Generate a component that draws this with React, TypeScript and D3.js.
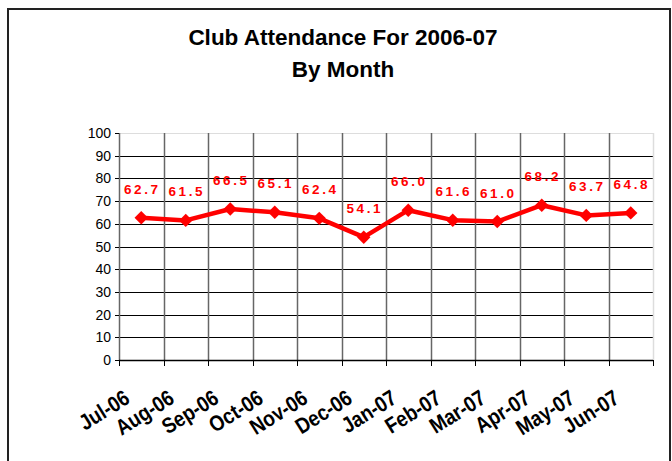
import * as d3 from 'd3'

const months = [
  'Jul-06', 'Aug-06', 'Sep-06', 'Oct-06', 'Nov-06', 'Dec-06',
  'Jan-07', 'Feb-07', 'Mar-07', 'Apr-07', 'May-07', 'Jun-07',
]
const attendance = [62.7, 61.5, 66.5, 65.1, 62.4, 54.1, 66.0, 61.6, 61.0, 68.2, 63.7, 64.8]
const yTicks = [0, 10, 20, 30, 40, 50, 60, 70, 80, 90, 100]
const titleLines = ['Club Attendance For 2006-07', 'By Month']

const WIDTH = 672
const HEIGHT = 461
const plot = { left: 119, right: 653, top: 133, bottom: 360 }
const font = 'Arial, "Liberation Sans", sans-serif'

const App = () => {
  const x = d3.scaleBand<string>().domain(months).range([plot.left, plot.right])
  const y = d3.scaleLinear().domain([0, 100]).range([plot.bottom, plot.top])
  const cx = (m: string) => (x(m) ?? 0) + x.bandwidth() / 2

  const line = d3
    .line<number>()
    .x((_, i) => cx(months[i]))
    .y((d) => y(d))

  const diamond = d3.symbol(d3.symbolSquare, 90)()
  const boundaries = d3.range(months.length + 1).map((i) => plot.left + i * x.bandwidth())

  return (
    <svg
      width={WIDTH}
      height={HEIGHT}
      style={{ position: 'absolute', left: 0, top: 0, background: '#fff' }}
      fontFamily={font}
    >
      <rect x={8} y={9} width={662} height={470} fill="#fff" stroke="#222" strokeWidth={2} />

      {titleLines.map((t, i) => (
        <text
          key={t}
          x={343}
          y={45 + i * 32}
          textAnchor="middle"
          fontSize={22.5}
          fontWeight="bold"
          fill="#000"
        >
          {t}
        </text>
      ))}

      {/* horizontal gridlines */}
      {yTicks.map((t) => (
        <line
          key={`h${t}`}
          x1={plot.left}
          x2={plot.right}
          y1={Math.round(y(t)) + 0.5}
          y2={Math.round(y(t)) + 0.5}
          stroke={t === 100 ? '#ddd' : '#000'}
          strokeWidth={1}
        />
      ))}
      {/* vertical gridlines */}
      {boundaries.map((bx, i) => (
        <line
          key={`v${i}`}
          x1={Math.round(bx) + 0.5}
          x2={Math.round(bx) + 0.5}
          y1={plot.top}
          y2={plot.bottom}
          stroke={i === months.length ? '#ddd' : '#666'}
          strokeWidth={1.5}
        />
      ))}

      {/* y axis ticks and labels */}
      {yTicks.map((t) => (
        <g key={`yt${t}`}>
          <line
            x1={plot.left - 4}
            x2={plot.left}
            y1={Math.round(y(t)) + 0.5}
            y2={Math.round(y(t)) + 0.5}
            stroke="#000"
          />
          <text x={111} y={y(t) + 5} textAnchor="end" fontSize={14} fill="#000">
            {t}
          </text>
        </g>
      ))}

      {/* x axis */}
      <line x1={plot.left} x2={plot.right} y1={plot.bottom + 0.5} y2={plot.bottom + 0.5} stroke="#000" strokeWidth={1.5} />
      {boundaries.map((bx, i) => (
        <line
          key={`xt${i}`}
          x1={Math.round(bx) + 0.5}
          x2={Math.round(bx) + 0.5}
          y1={plot.bottom}
          y2={plot.bottom + 6}
          stroke="#000"
        />
      ))}
      {months.map((m) => (
        <text
          key={m}
          transform={`translate(${cx(m) - 10},402) rotate(-32) scale(0.86,1)`}
          textAnchor="end"
          fontSize={22}
          fontWeight="bold"
          fill="#000"
        >
          {m}
        </text>
      ))}

      {/* series */}
      <path d={line(attendance) ?? ''} fill="none" stroke="#ff0000" strokeWidth={4.5} strokeLinejoin="round" />
      {attendance.map((v, i) => (
        <path
          key={`m${i}`}
          d={diamond ?? ''}
          transform={`translate(${cx(months[i])},${y(v)}) rotate(45)`}
          fill="#ff0000"
        />
      ))}
      {attendance.map((v, i) => (
        <text
          key={`l${i}`}
          x={cx(months[i]) + 1}
          y={y(v) - 24}
          textAnchor="middle"
          fontSize={13.5}
          fontWeight="bold"
          letterSpacing={2.5}
          fill="#ff0000"
        >
          {v.toFixed(1)}
        </text>
      ))}
    </svg>
  )
}

export default App
